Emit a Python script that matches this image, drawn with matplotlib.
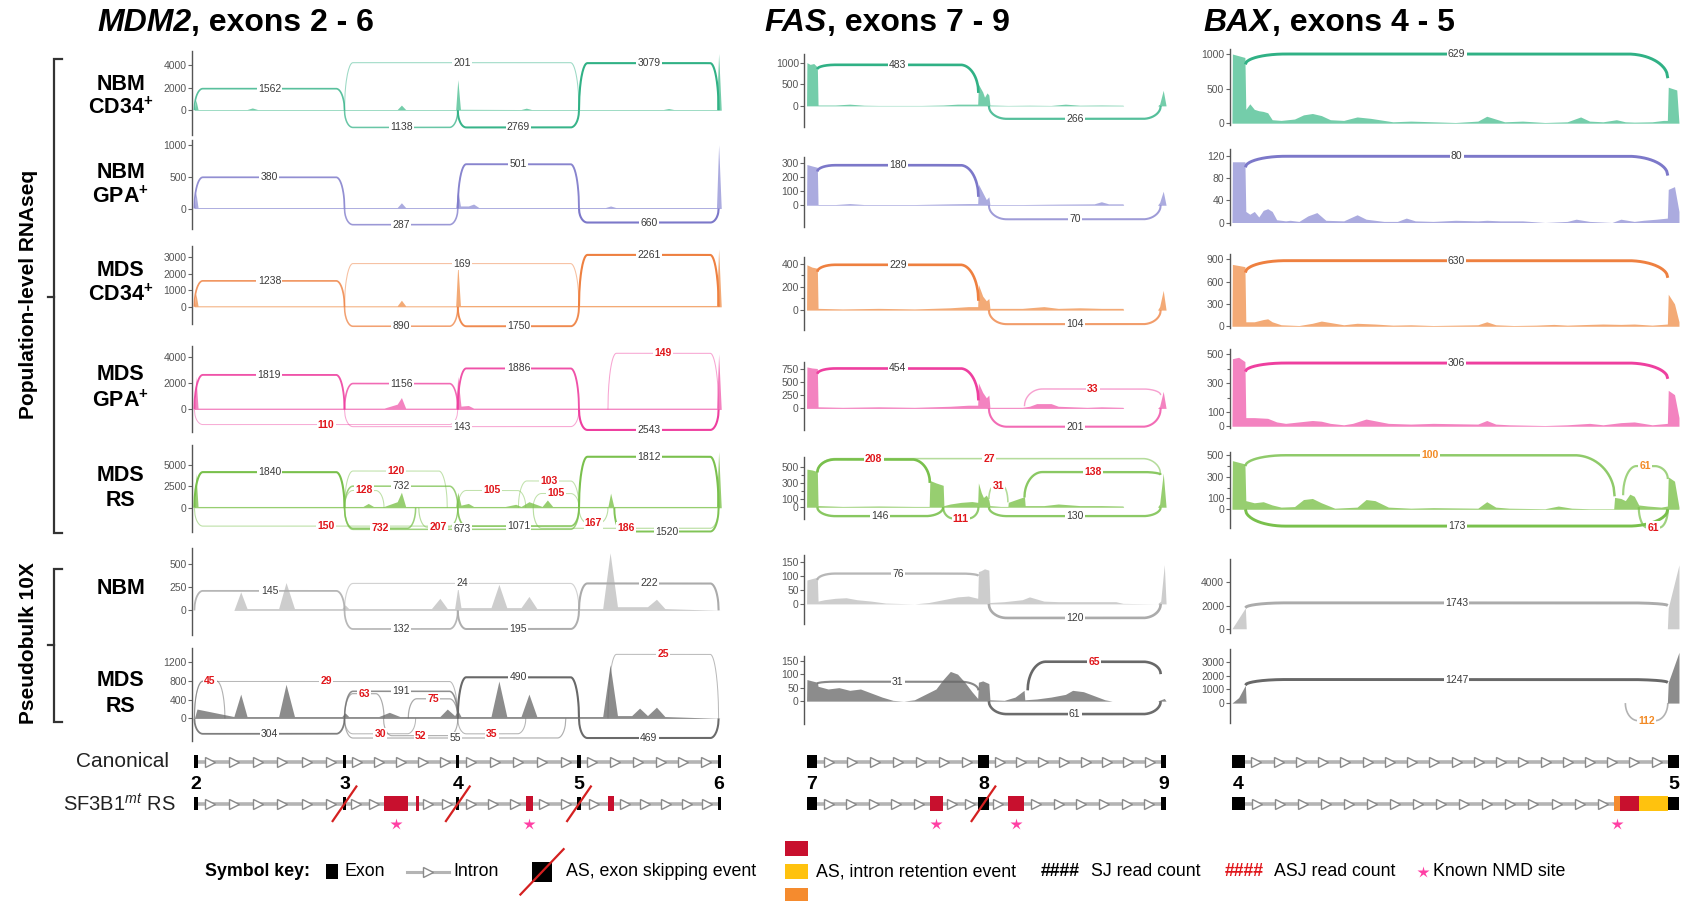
import numpy as np
import matplotlib
matplotlib.use("Agg")
import matplotlib.pyplot as plt
from matplotlib.patches import Rectangle

plt.rcParams['font.family'] = ['Liberation Sans', 'DejaVu Sans']
plt.rcParams['mathtext.fontset'] = 'custom'
plt.rcParams['mathtext.rm'] = 'Liberation Sans'
plt.rcParams['mathtext.it'] = 'Liberation Sans:italic'
plt.rcParams['mathtext.bf'] = 'Liberation Sans:bold'

# ---------------- data ----------------
GENE_NAMES = ["MDM2", "FAS", "BAX"]
GENE_SUBTITLES = [", exons 2 - 6", ", exons 7 - 9", ", exons 4 - 5"]
ROW_NAMES = [("NBM", r"CD34$^{\mathbf{+}}$"), ("NBM", r"GPA$^{\mathbf{+}}$"),
             ("MDS", r"CD34$^{\mathbf{+}}$"), ("MDS", r"GPA$^{\mathbf{+}}$"),
             ("MDS", "RS"), ("NBM", None), ("MDS", "RS")]
GROUP_NAMES = ["Population-level RNAseq", "Pseudobulk 10X"]

# y ticks and y ranges per row
MDM2_TICKS = [[0, 2000, 4000], [0, 500, 1000], [0, 1000, 2000, 3000], [0, 2000, 4000],
              [0, 2500, 5000], [0, 250, 500], [0, 400, 800, 1200]]
FAS_TICKS = [[0, 500, 1000], [0, 100, 200, 300], [0, 200, 400], [0, 250, 500, 750],
             [0, 100, 300, 500], [0, 50, 100, 150], [0, 50, 100, 150]]
BAX_TICKS = [[0, 500, 1000], [0, 40, 80, 120], [0, 300, 600, 900], [0, 100, 300, 500],
             [0, 100, 300, 500], [0, 2000, 4000], [0, 1000, 2000, 3000]]
MDM2_YLIM = [(-2190, 5240), (-322, 1068), (-1046, 3660), (-1714, 4816), (-2750, 7250), (-267, 674), (-486, 1502)]
FAS_YLIM = [(-500, 1200), (-154, 346), (-167, 456), (-406, 874), (-140, 620), (-73, 173), (-84, 168)]
BAX_YLIM = [(-31, 1078), (-4, 133), (-29, 971), (-11, 538), (-176, 534), (-370, 6045), (-1432, 3920)]

# coverage tracks (x in % of displayed region, y in reads)
MDM2_COV_X = [
    [0, 0.3, 0.7, 10, 11, 12, 38.5, 39.3, 40.1, 49.6, 50, 50.5, 62, 63, 64, 89, 90, 91, 99.1, 99.5, 100],
    [0, 0.3, 0.7, 38.5, 39.3, 40.1, 49.6, 50, 50.5, 52, 53, 54, 78, 79, 80, 99.1, 99.5, 100],
    [0, 0.3, 0.7, 38.5, 39.3, 40.1, 49.6, 50, 50.5, 99.1, 99.5, 100],
    [0, 0.3, 0.7, 36, 38.5, 39.3, 40.1, 49.6, 50, 50.6, 52, 53, 54, 99.1, 99.5, 100],
    [0, 0.3, 0.7, 32, 33, 34, 36, 38.5, 39.3, 40.1, 49.6, 50, 50.6, 52, 53, 59, 61, 62, 63.5, 66, 67, 68,
     78.5, 79, 79.6, 99.1, 99.5, 100],
    [0, 7.5, 8.8, 10, 16, 17.4, 19, 28, 28.6, 29.3, 45, 46.6, 48, 49.4, 50, 50.6, 56.3, 57.8, 59.3, 62, 63.5,
     65, 77.5, 78.9, 80.3, 86, 87.7, 89.3, 100],
    [0, 0.5, 7.5, 8.8, 10, 16, 17.4, 19, 28, 28.6, 29.3, 35, 37, 39, 46.6, 48, 49.4, 50, 50.6, 56.3, 57.8,
     59.3, 62, 63.5, 65, 77.5, 78.9, 80.3, 83, 84.5, 86, 87.7, 89.3, 100]]
MDM2_COV_Y = [
    [0, 900, 60, 60, 200, 60, 60, 450, 60, 60, 2700, 80, 60, 180, 60, 60, 150, 60, 60, 5000, 0],
    [0, 250, 15, 15, 90, 15, 15, 300, 40, 40, 70, 15, 15, 40, 15, 15, 1000, 0],
    [0, 800, 60, 60, 400, 60, 60, 2600, 80, 80, 3500, 0],
    [0, 2500, 100, 100, 400, 900, 100, 100, 2500, 250, 300, 100, 100, 100, 4200, 0],
    [0, 4000, 150, 150, 500, 150, 150, 700, 1800, 150, 150, 1800, 300, 500, 150, 150, 400, 150, 700, 150, 900,
     150, 150, 1700, 150, 150, 6500, 0],
    [0, 0, 200, 20, 20, 300, 20, 20, 60, 20, 20, 130, 20, 20, 250, 30, 30, 280, 30, 30, 150, 20, 20, 620, 40,
     40, 120, 20, 0],
    [0, 200, 40, 520, 40, 40, 730, 40, 40, 120, 40, 40, 130, 40, 40, 200, 60, 170, 40, 40, 800, 40, 40, 520,
     40, 40, 1150, 60, 60, 220, 60, 240, 40, 0]]

FAS_COV_X = [
    [0, 0.1, 1, 2, 3, 3.2, 8, 12, 16, 20, 26, 32, 38, 42, 45, 47.6, 47.8, 49, 49.5, 50.2, 50.7, 51, 56, 62, 68,
     72, 76, 82, 88, 88.2, 97.6, 98.2, 99.2, 100],
    [0, 0.1, 1.5, 3, 3.2, 8, 12, 16, 30, 40, 45, 47.6, 47.8, 49, 50, 50.7, 51, 60, 70, 80, 82, 84, 88, 88.2,
     97.6, 98.2, 99.2, 100],
    [0, 0.1, 1.5, 3, 3.2, 10, 20, 30, 40, 45, 47.6, 47.8, 49, 50, 50.7, 51, 60, 66, 70, 76, 82, 88, 88.2, 97.6,
     98.2, 99.2, 100],
    [0, 0.1, 1.5, 3, 3.2, 10, 20, 30, 40, 45, 47.6, 47.8, 49, 50, 50.7, 51, 60, 62, 64, 68, 70, 74, 78, 82, 88,
     88.2, 97.6, 98.2, 99.2, 100],
    [0, 0.1, 1.5, 3, 3.2, 10, 20, 30, 34.1, 34.3, 36, 38, 38.2, 40, 43, 46, 47.6, 47.8, 48.6, 49.2, 50, 50.7,
     51, 54, 56, 56.1, 58, 60.6, 60.8, 66, 70, 76, 82, 88, 88.2, 97.6, 98.2, 99.2, 100],
    [0, 0.1, 1.5, 3, 3.2, 5, 8, 11, 14, 18, 22, 30, 34, 38, 42, 45, 47.6, 47.8, 48.5, 49.5, 50.7, 51, 55, 60,
     62, 66, 70, 76, 82, 86, 88, 97.6, 98.5, 99.5, 100],
    [0, 0.1, 1.5, 3, 3.2, 6, 9, 12, 15, 18, 21, 24, 27, 30, 33, 36, 38, 40, 42, 44, 46, 47.6, 47.8, 49, 50.7,
     51, 55, 58, 60.5, 60.7, 64, 68, 72, 74, 77, 80, 83, 85, 88, 97.6, 98.5, 99.5, 100]]
FAS_COV_Y = [
    [0, 1000, 960, 980, 900, 20, 20, 40, 15, 10, 10, 10, 20, 40, 40, 40, 500, 320, 200, 300, 250, 20, 10, 15,
     10, 40, 15, 20, 15, 0, 0, 40, 360, 0],
    [0, 290, 280, 270, 5, 5, 12, 5, 5, 10, 12, 12, 150, 90, 40, 60, 5, 5, 8, 10, 25, 10, 10, 0, 0, 20, 100, 0],
    [0, 390, 370, 360, 15, 10, 15, 10, 20, 30, 30, 220, 120, 80, 100, 15, 15, 30, 15, 20, 15, 15, 0, 0, 30,
     170, 0],
    [0, 780, 760, 750, 30, 20, 30, 20, 40, 60, 60, 480, 300, 200, 250, 20, 20, 40, 90, 90, 40, 30, 20, 30, 20,
     0, 0, 40, 320, 0],
    [0, 470, 460, 440, 20, 10, 15, 10, 10, 330, 300, 270, 20, 40, 60, 70, 60, 300, 180, 120, 150, 90, 20, 10,
     10, 60, 90, 130, 20, 20, 40, 20, 20, 15, 0, 0, 40, 420, 0],
    [0, 85, 90, 95, 10, 15, 20, 22, 15, 10, 3, 0, 5, 15, 25, 28, 20, 115, 118, 125, 120, 5, 8, 15, 25, 10, 8,
     8, 8, 8, 2, 0, 10, 140, 0],
    [0, 80, 75, 70, 55, 45, 50, 40, 45, 30, 15, 3, 0, 5, 25, 45, 80, 110, 100, 70, 35, 10, 70, 75, 65, 5, 3,
     15, 40, 5, 8, 15, 25, 40, 35, 20, 5, 0, 0, 0, 5, 10, 0]]

BAX_COV_X = [
    [0, 0.1, 2.9, 3.1, 4, 5, 6, 7, 8, 9, 11, 14, 16, 18, 20, 22, 25, 28, 31, 34, 36, 40, 45, 50, 55, 57, 59,
     61, 65, 70, 75, 78, 80, 83, 86, 88, 90, 94, 96.5, 97.4, 97.6, 99.5, 100],
    [0, 0.1, 2.9, 3.1, 4, 5, 6, 7, 8, 9, 10, 12, 13, 15, 17, 19, 21, 25, 28, 30, 34, 37, 39, 41, 45, 50, 55,
     57, 60, 65, 70, 75, 77, 80, 85, 87, 90, 92, 95, 97.4, 97.6, 99, 100],
    [0, 0.1, 2.9, 3.1, 5, 7, 8, 9, 11, 15, 18, 20, 25, 28, 32, 36, 40, 45, 50, 55, 57, 59, 63, 68, 72, 75, 80,
     83, 87, 90, 94, 97.4, 97.6, 99, 100],
    [0, 0.1, 1.5, 2.9, 3.1, 5, 8, 10, 12, 15, 18, 20, 22, 25, 27, 30, 35, 40, 45, 55, 57, 59, 62, 70, 75, 80,
     83, 87, 90, 94, 97.4, 97.6, 99, 100],
    [0, 0.1, 2.9, 3.1, 5, 7, 9, 11, 14, 16, 18, 20, 23, 28, 30, 32, 35, 40, 45, 55, 57, 59, 62, 70, 73, 76, 80,
     85.4, 85.6, 87, 88, 89, 90, 91, 93, 96, 97.4, 97.6, 99, 100],
    [0, 3, 3.2, 97.4, 97.6, 100],
    [0, 1.5, 3, 3.2, 97.4, 97.6, 100]]
BAX_COV_Y = [
    [0, 1000, 950, 200, 280, 200, 180, 170, 150, 50, 40, 60, 120, 140, 110, 50, 40, 90, 70, 40, 20, 30, 20, 10,
     30, 100, 60, 20, 30, 10, 20, 90, 30, 20, 50, 20, 15, 20, 40, 40, 520, 480, 0],
    [0, 110, 110, 20, 15, 20, 10, 22, 25, 20, 5, 3, 4, 2, 12, 18, 4, 3, 14, 6, 2, 2, 8, 3, 2, 4, 3, 4, 3, 3, 0,
     2, 6, 2, 0, 6, 2, 4, 6, 8, 60, 65, 20],
    [0, 830, 800, 60, 60, 90, 100, 60, 20, 10, 40, 70, 20, 40, 30, 15, 20, 10, 15, 20, 60, 20, 10, 15, 25, 15,
     25, 30, 25, 30, 15, 30, 430, 300, 60],
    [0, 470, 480, 450, 60, 60, 55, 30, 20, 30, 40, 35, 20, 10, 20, 50, 20, 15, 20, 15, 40, 15, 10, 5, 10, 20,
     10, 25, 30, 10, 20, 250, 220, 60],
    [0, 450, 420, 80, 60, 70, 40, 20, 25, 90, 100, 60, 10, 20, 90, 80, 20, 10, 15, 10, 70, 20, 10, 5, 30, 10,
     5, 5, 110, 100, 80, 140, 120, 40, 30, 20, 30, 300, 260, 20],
    [0, 1800, 0, 0, 1800, 5500],
    [0, 400, 1300, 0, 0, 1500, 3700]]

# junctions: (start, end, arc height, read count, kind, start level, end level)
# kind: 'n' = SJ count, 'r' = ASJ count, 'o' = intron-retention ASJ
MDM2_ARCS = [
    [(0, 28.5, 1900, 1562, 'n'), (28.5, 73, 4190, 201, 'n'), (73, 99.5, 4150, 3079, 'n'),
     (28.5, 50, -1520, 1138, 'n'), (50, 73, -1520, 2769, 'n')],
    [(0, 28.5, 490, 380, 'n'), (50, 73, 695, 501, 'n'), (28.5, 50, -254, 287, 'n'), (73, 99.5, -220, 660, 'n')],
    [(0, 28.5, 1570, 1238, 'n'), (28.5, 73, 2616, 169, 'n'), (73, 99.5, 3140, 2261, 'n'),
     (28.5, 50, -1177, 890, 'n'), (50, 73, -1177, 1750, 'n')],
    [(0, 28.5, 2611, 1819, 'n'), (28.5, 50, 1958, 1156, 'n'), (50, 73, 3100, 1886, 'n'),
     (78.5, 99.5, 4243, 149, 'r'), (0, 50, -1142, 110, 'r'), (28.5, 73, -1300, 143, 'n'),
     (73, 99.5, -1550, 2543, 'n')],
    [(0, 28.5, 4125, 1840, 'n'), (73, 99.5, 5900, 1812, 'n'), (28.5, 48, 4250, 120, 'r'),
     (28.5, 36, 2000, 128, 'r'), (28.5, 50, 2500, 732, 'n'), (50, 62.9, 2000, 105, 'r'),
     (61.5, 73, 3100, 103, 'r'), (64.3, 73, 1650, 105, 'r'),
     (0, 50, -2125, 150, 'r'), (28.5, 42, -2375, 732, 'r'), (42.6, 50, -2250, 207, 'r'),
     (28.5, 73, -2500, 673, 'n'), (50, 73, -2125, 1071, 'n'), (73, 78.5, -1750, 167, 'r'),
     (64.3, 99.5, -2375, 186, 'r'), (79.7, 99.5, -2750, 1520, 'n')],
    [(0, 28.5, 210, 145, 'n'), (28.5, 73, 290, 24, 'n'), (73, 99.5, 290, 222, 'n'),
     (28.5, 50, -200, 132, 'n'), (50, 73, -200, 195, 'n')],
    [(0, 5.8, 800, 45, 'r'), (0, 50, 790, 29, 'r'), (28.5, 36, 530, 63, 'r'), (28.5, 50, 580, 191, 'n'),
     (40.6, 50, 420, 75, 'r'), (50, 73, 880, 490, 'n'), (78.5, 99.5, 1370, 25, 'r'),
     (0, 28.5, -330, 304, 'n'), (28.5, 42, -330, 30, 'r'), (35.9, 50, -370, 52, 'r'),
     (28.5, 70.5, -420, 55, 'n'), (50, 62.9, -330, 35, 'r'), (73, 99.5, -420, 469, 'n')]]
FAS_ARCS = [
    [(3, 47.8, 950, 483, 'n', 850, 300), (50.7, 98.5, -300, 266, 'n', 0, 0)],
    [(3, 47.8, 285, 180, 'n', 240, 60), (50.7, 98.5, -100, 70, 'n', 0, 0)],
    [(3, 47.8, 390, 229, 'n', 330, 80), (50.7, 98.5, -121, 104, 'n', 0, 0)],
    [(3, 47.8, 751, 454, 'n', 650, 150), (60.6, 98.5, 365, 33, 'r', 40, 250), (50.7, 98.5, -345, 201, 'n', 0, 0)],
    [(3, 34.3, 590, 208, 'r', 430, 300), (3, 98.5, 600, 27, 'r', 430, 400), (50.7, 56, 266, 31, 'r', 100, 60),
     (60.6, 98.5, 434, 138, 'r', 120, 400), (3, 38, -110, 146, 'n', 0, 0), (38, 47.8, -140, 111, 'r', 0, 0),
     (50.7, 98.5, -110, 130, 'n', 0, 0)],
    [(3, 47.8, 108, 76, 'n', 85, 100), (50.7, 98.5, -50, 120, 'n', 0, 0)],
    [(3, 47.8, 72, 31, 'n', 65, 40), (61.5, 98.5, 146, 65, 'r', 40, 100), (50.7, 98.5, -48, 61, 'n', 0, 0)]]
BAX_ARCS = [
    [(3, 97.5, 1000, 629, 'n', 850, 650)],
    [(3, 97.5, 120, 80, 'n', 100, 85)],
    [(3, 97.5, 880, 630, 'n', 720, 650)],
    [(3, 97.5, 440, 306, 'n', 380, 330)],
    [(3, 85.6, 500, 100, 'o', 400, 120), (87.5, 97.5, 400, 61, 'o', 130, 280), (3, 97.5, -156, 173, 'n', 0, 0),
     (91, 97.5, -170, 61, 'r', 20, 0)],
    [(3, 97.5, 2230, 1743, 'n', 1800, 2000)],
    [(3, 97.5, 1716, 1247, 'n', 1300, 1500), (88, 97.5, -1280, 112, 'o', 0, 0)]]

# gene models (x in % of displayed region)
MDM2_EXONS = [(0, 0.6), (28.2, 28.8), (49.7, 50.3), (72.7, 73.3), (99.3, 99.9)]
FAS_EXONS = [(0, 3), (47.8, 50.7), (98.5, 100)]
BAX_EXONS = [(0, 3), (97.5, 100)]
EXON_NUMBERS = [["2", "3", "4", "5", "6"], ["7", "8", "9"], ["4", "5"]]
MDM2_SKIPPED = [28.5, 50, 73]
FAS_SKIPPED = [49.2]
MDM2_CRYPTIC = [(35.9, 40.6), (42, 42.6), (62.9, 64.3), (78.5, 79.7)]
FAS_CRYPTIC = [(34.3, 38), (56, 60.6)]
BAX_RETENTION = [(85.5, 86.7, 'orange'), (86.7, 91, 'red'), (91, 97.5, 'yellow')]
MDM2_NMD = [38.2, 63.6]
FAS_NMD = [36.1, 58.3]
BAX_NMD = [86.1]

# ---------------- style ----------------
ARC_COLORS = ['#30b185', '#7c78c9', '#ee8040', '#ee3f9f', '#79c04c', '#ababab', '#686868']
FILL_COLORS = ['#74cdaa', '#ababdf', '#f3aa76', '#f383c0', '#97ce70', '#cdcdcd', '#8c8c8c']
KIND_COLORS = {'n': '#3a3a3a', 'r': '#e0161b', 'o': '#f28a25'}
RED = '#c8102e'
ORANGE = '#f58b2e'
YELLOW = '#ffc20e'
PINK = '#ff3fa4'

W, H = 1568.0, 834.0
fig = plt.figure(figsize=(16.93, 9.01), dpi=100)
ov = fig.add_axes([0, 0, 1, 1])
ov.set_xlim(0, W)
ov.set_ylim(H, 0)
ov.axis('off')

COL_BOX = [(178, 670, -0.41, 100.41), (745, 1082, -0.6, 100.6), (1139, 1557, -0.48, 100.48)]
ROW_BOX = [
    [(47, 125), (130, 212), (228, 300), (320, 400), (412, 492), (507, 588), (600, 686)],
    [(50, 118), (145, 210), (238, 305), (335, 398), (423, 480), (514, 578), (607, 670)],
    [(45, 116), (138, 208), (235, 304), (323, 396), (418, 489), (517, 586), (601, 669)]]
CORNER = [1.6, 5.0, 9.0]
ARC_LW = [(0.5, 1.0), (0.7, 1.2), (0.8, 1.3)]
MINOR = {(1, 2): [100, 300], (1, 4): [200, 400], (2, 3): [200, 400], (2, 4): [200, 400]}

GENE_DATA = [
    (MDM2_TICKS, MDM2_YLIM, MDM2_COV_X, MDM2_COV_Y, MDM2_ARCS),
    (FAS_TICKS, FAS_YLIM, FAS_COV_X, FAS_COV_Y, FAS_ARCS),
    (BAX_TICKS, BAX_YLIM, BAX_COV_X, BAX_COV_Y, BAX_ARCS)]


def arc_curve(x1, x2, h, bl, br, c):
    c = min(c, 0.3 * (x2 - x1))
    xs = np.linspace(x1, x2, 400)
    dl = np.clip((xs - x1) / c, 0, 1)
    dr = np.clip((x2 - xs) / c, 0, 1)
    sl = np.sqrt(1 - (1 - dl) ** 2)
    sr = np.sqrt(1 - (1 - dr) ** 2)
    ys = np.where(xs - x1 < x2 - xs, bl + (h - bl) * sl, br + (h - br) * sr)
    return xs, ys


for g, (ticks, ylims, covx, covy, arcs) in enumerate(GENE_DATA):
    xl, xr, ux0, ux1 = COL_BOX[g]
    lw0, lw1 = ARC_LW[g]
    for r in range(7):
        yt, yb = ROW_BOX[g][r]
        ax = fig.add_axes([xl / W, 1 - yb / H, (xr - xl) / W, (yb - yt) / H])
        ax.patch.set_alpha(0)
        ax.set_xlim(ux0, ux1)
        ax.set_ylim(*ylims[r])
        for s in ['top', 'right', 'bottom']:
            ax.spines[s].set_visible(False)
        ax.spines['left'].set_color('#555555')
        ax.spines['left'].set_linewidth(1.0)
        ax.set_xticks([])
        ax.set_yticks(ticks[r])
        ax.set_yticklabels([str(t) for t in ticks[r]])
        if (g, r) in MINOR:
            ax.set_yticks(MINOR[(g, r)], minor=True)
        ax.tick_params(axis='y', which='major', length=3, width=0.8, color='#666666', labelsize=7.5,
                       labelcolor='#555555', pad=1)
        ax.tick_params(axis='y', which='minor', length=2, width=0.8, color='#666666')
        ax.fill_between(covx[r], 0, covy[r], color=FILL_COLORS[r], lw=0, zorder=2)
        counts = [a[3] for a in arcs[r]]
        cmax = max(counts)
        for a in arcs[r]:
            x1, x2, hgt, cnt, kind = a[:5]
            bl, br = (a[5], a[6]) if len(a) > 5 else (0, 0)
            w = np.sqrt(cnt / cmax)
            xs, ys = arc_curve(x1, x2, hgt, bl, br, CORNER[g])
            ax.plot(xs, ys, color=ARC_COLORS[r], lw=lw0 + lw1 * w, alpha=0.3 + 0.7 * w,
                    zorder=3, clip_on=False, solid_capstyle='butt')
            ax.text((x1 + x2) / 2, hgt, str(cnt), ha='center', va='center', fontsize=7.5,
                    color=KIND_COLORS[kind], fontweight='bold' if kind != 'n' else 'normal',
                    zorder=5, clip_on=False,
                    bbox=dict(boxstyle='square,pad=0.12', fc='white', ec='none'))

# ---------------- titles ----------------
fig.canvas.draw()
renderer = fig.canvas.get_renderer()
TITLE_X = [90, 708, 1115]
for g in range(3):
    t1 = ov.text(TITLE_X[g], 21, GENE_NAMES[g], fontsize=23, fontweight='bold', fontstyle='italic',
                 ha='left', va='center')
    bb = t1.get_window_extent(renderer=renderer)
    xr_data = ov.transData.inverted().transform((bb.x1, bb.y0))[0]
    ov.text(xr_data, 21, GENE_SUBTITLES[g], fontsize=23, fontweight='bold', ha='left', va='center')

# ---------------- row labels ----------------
ROW_LABEL_Y = [(78, 100), (160, 183), (250, 273), (347, 371), (440, 463), (545, None), (630, 654)]
for r, (l1, l2) in enumerate(ROW_NAMES):
    y1, y2 = ROW_LABEL_Y[r]
    ov.text(112, y1, l1, fontsize=15.5, fontweight='bold', ha='center', va='center')
    if l2 is not None:
        ov.text(112, y2, l2, fontsize=15.5, fontweight='bold', ha='center', va='center')

ov.text(26, 273, GROUP_NAMES[0], rotation=90, fontsize=15, fontweight='bold', ha='center', va='center')
ov.text(26, 595, GROUP_NAMES[1], rotation=90, fontsize=15, fontweight='bold', ha='center', va='center')
ov.plot([57, 50, 50, 57], [55, 55, 493, 493], color='#333333', lw=1.6, solid_joinstyle='miter')
ov.plot([44, 50], [275, 275], color='#333333', lw=1.6)
ov.plot([57, 50, 50, 57], [527, 527, 668, 668], color='#333333', lw=1.6, solid_joinstyle='miter')
ov.plot([44, 50], [597, 597], color='#333333', lw=1.6)

# ---------------- gene models ----------------
GENE_PX = [(180, 668), (747, 1080), (1141, 1555)]
EXON_LISTS = [MDM2_EXONS, FAS_EXONS, BAX_EXONS]
CANON_Y = 705
ALT_Y = 744


def to_px(g, u):
    a, b = GENE_PX[g]
    return a + u * (b - a) / 100.0


def draw_track(g, y, boxes):
    boxes = sorted(boxes, key=lambda b: b[0])
    ov.plot([boxes[0][0], boxes[-1][1]], [y, y], color='#b4b4b4', lw=2.6, zorder=2, solid_capstyle='butt')
    for b0, b1 in zip(boxes[:-1], boxes[1:]):
        gap = b1[0] - b0[1]
        n = int(round(gap / 21.0))
        for i in range(n):
            xa = b0[1] + (i + 0.5) * gap / n
            ov.plot([xa], [y], marker='>', ms=7, mfc='white', mec='#8a8a8a', mew=1.0, zorder=3)
    for x0, x1, col, hh in boxes:
        ov.add_patch(Rectangle((x0, y - hh / 2), x1 - x0, hh, fc=col, ec='none', zorder=4))


for g in range(3):
    ex = [(to_px(g, a), max(to_px(g, b), to_px(g, a) + 3), 'black', 12) for a, b in EXON_LISTS[g]]
    draw_track(g, CANON_Y, ex)
    for (a, b), lab in zip(EXON_LISTS[g], EXON_NUMBERS[g]):
        ov.text((to_px(g, a) + to_px(g, b)) / 2, 726, lab, fontsize=14, fontweight='bold',
                ha='center', va='center')
    alt = list(ex)
    if g == 0:
        alt += [(to_px(0, a), to_px(0, b), RED, 14) for a, b in MDM2_CRYPTIC]
        skipped, nmd = MDM2_SKIPPED, MDM2_NMD
    elif g == 1:
        alt += [(to_px(1, a), to_px(1, b), RED, 14) for a, b in FAS_CRYPTIC]
        skipped, nmd = FAS_SKIPPED, FAS_NMD
    else:
        cmap = {'orange': ORANGE, 'red': RED, 'yellow': YELLOW}
        alt += [(to_px(2, a), to_px(2, b), cmap[c], 14) for a, b, c in BAX_RETENTION]
        skipped, nmd = [], BAX_NMD
    draw_track(g, ALT_Y, alt)
    for s in skipped:
        xs = to_px(g, s)
        ov.plot([xs - 11, xs + 11], [ALT_Y + 16, ALT_Y - 16], color='#d42020', lw=1.6, zorder=6)
    for s in nmd:
        ov.plot([to_px(g, s)], [763], marker='*', ms=9, color=PINK, mec='none', zorder=6)

ov.text(113, CANON_Y, "Canonical", fontsize=15, ha='center', va='center', color='#222222')
ov.text(110, ALT_Y, r"SF3B1$^{mt}$ RS", fontsize=14.5, ha='center', va='center', color='#222222')

# ---------------- symbol key ----------------
LY = 807
FS = 12.8
ov.text(190, LY, "Symbol key:", fontsize=FS, fontweight='bold', ha='left', va='center')
ov.add_patch(Rectangle((302, LY - 7), 11, 14, fc='black', ec='none'))
ov.text(319, LY, "Exon", fontsize=FS, ha='left', va='center')
ov.plot([377, 416], [LY, LY], color='#b4b4b4', lw=2.2)
ov.plot([396], [LY], marker='>', ms=7, mfc='white', mec='#8a8a8a', mew=1.0)
ov.text(420, LY, "Intron", fontsize=FS, ha='left', va='center')
ov.add_patch(Rectangle((493, LY - 9), 18, 18, fc='black', ec='none'))
ov.plot([482, 522], [LY + 21, LY - 21], color='#d42020', lw=1.6)
ov.text(524, LY, "AS, exon skipping event", fontsize=FS, ha='left', va='center')
ov.add_patch(Rectangle((727, LY - 29), 21, 14, fc=RED, ec='none'))
ov.add_patch(Rectangle((727, LY - 7), 21, 14, fc=YELLOW, ec='none'))
ov.add_patch(Rectangle((727, LY + 15), 21, 14, fc=ORANGE, ec='none', clip_on=False))
ov.text(756, LY, "AS, intron retention event", fontsize=FS, ha='left', va='center')
ov.text(964, LY, "####", fontsize=FS, fontweight='bold', ha='left', va='center')
ov.text(1010, LY, "SJ read count", fontsize=FS, ha='left', va='center')
ov.text(1134, LY, "####", fontsize=FS, fontweight='bold', ha='left', va='center', color='#e0161b')
ov.text(1180, LY, "ASJ read count", fontsize=FS, ha='left', va='center')
ov.plot([1318], [LY], marker='*', ms=9, color=PINK, mec='none')
ov.text(1327, LY, "Known NMD site", fontsize=FS, ha='left', va='center')

fig.savefig("out.png", dpi=100)
